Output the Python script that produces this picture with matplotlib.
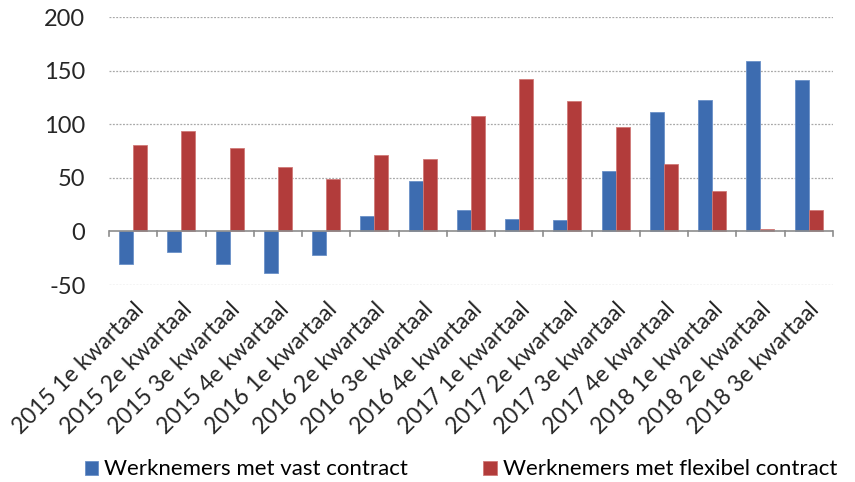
import matplotlib

matplotlib.use("Agg")
import matplotlib.pyplot as plt
import numpy as np

quarters = [
    "2015 1e kwartaal", "2015 2e kwartaal", "2015 3e kwartaal", "2015 4e kwartaal",
    "2016 1e kwartaal", "2016 2e kwartaal", "2016 3e kwartaal", "2016 4e kwartaal",
    "2017 1e kwartaal", "2017 2e kwartaal", "2017 3e kwartaal", "2017 4e kwartaal",
    "2018 1e kwartaal", "2018 2e kwartaal", "2018 3e kwartaal",
]
vast = [-30, -19, -30, -39, -22, 14, 47, 20, 12, 11, 56, 111, 123, 159, 141]
flexibel = [81, 94, 78, 60, 49, 71, 68, 108, 142, 122, 97, 63, 38, 2, 20]
series_names = ["Werknemers met vast contract", "Werknemers met flexibel contract"]
y_ticks = [-50, 0, 50, 100, 150, 200]

blue, red = "#3D6CB0", "#B23C3B"
plt.rcParams["font.family"] = ["Lato", "DejaVu Sans"]

fig = plt.figure(figsize=(8.55, 4.82), dpi=100)
ax = fig.add_axes([0.1275, 0.4087, 0.974 - 0.1275, 0.9647 - 0.4087])

x = np.arange(len(quarters))
w = 0.29
ax.bar(x - w / 2, vast, w, color=blue, edgecolor="#6a90c8", linewidth=0.6,
       label=series_names[0], zorder=3)
ax.bar(x + w / 2, flexibel, w, color=red, edgecolor="#d07a78", linewidth=0.6,
       label=series_names[1], zorder=3)

ax.set_xlim(-0.5, len(quarters) - 0.5)
ax.set_ylim(-50, 200)
ax.set_yticks(y_ticks)
ax.set_yticklabels([str(v) for v in y_ticks], fontsize=17, color="#262626")
ax.tick_params(axis="y", length=0, pad=17)

for v in y_ticks:
    if v != 0:
        ax.axhline(v, color="#a8a8a8", linestyle=(0, (1.5, 1.2)), linewidth=0.9, zorder=1)
ax.axhline(0, color="#8c8c8c", linewidth=1.2, zorder=4)
# category boundary tick marks on the zero line
for b in np.arange(len(quarters) + 1) - 0.5:
    ax.plot([b, b], [0, -4.5], color="#8c8c8c", linewidth=1.2, zorder=4, clip_on=False)

for spine in ax.spines.values():
    spine.set_visible(False)

ax.set_xticks(x)
ax.set_xticklabels(quarters, rotation=45, ha="right", rotation_mode="anchor",
                   fontsize=16.5, color="#262626")
ax.tick_params(axis="x", length=0, pad=10)

fig.legend(*ax.get_legend_handles_labels(), loc="center", bbox_to_anchor=(0.539, 0.026),
           ncol=2, frameon=False, fontsize=16, handlelength=0.6, handleheight=0.6,
           handletextpad=0.27, columnspacing=3.4, borderpad=0)

fig.savefig("out.png", dpi=100, facecolor="white")
